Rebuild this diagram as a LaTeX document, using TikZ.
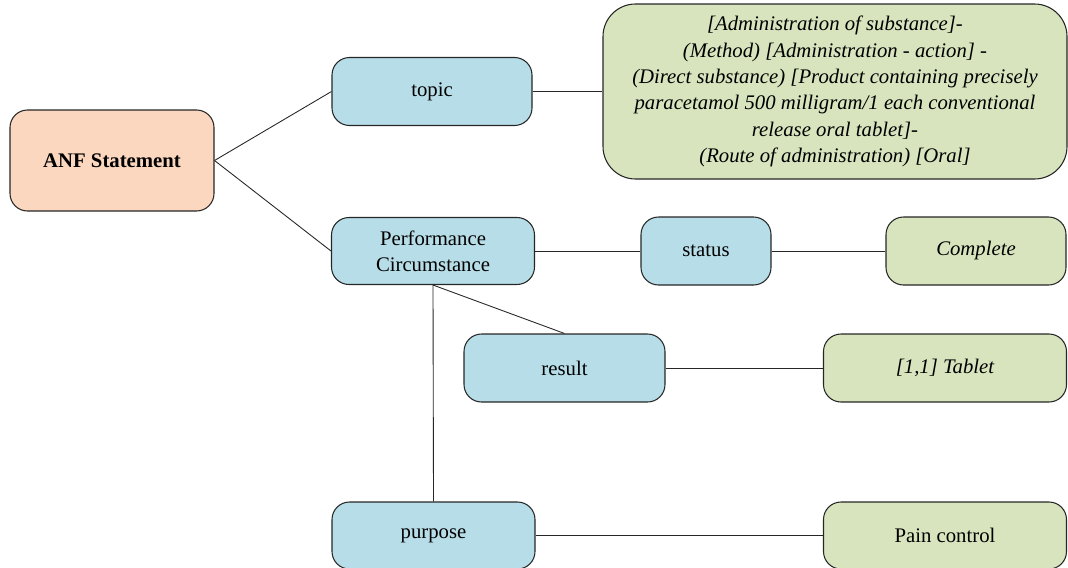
\documentclass[tikz,border=0pt]{standalone}
\usepackage{fontspec}
\setmainfont{Liberation Serif}
\usepackage{tikz}
\definecolor{anfpeach}{HTML}{FAD7BE}
\definecolor{attrblue}{HTML}{B7DEE8}
\definecolor{valgreen}{HTML}{D7E4BD}
\tikzset{box/.style = {draw=black!85, line width=0.6pt, rounded corners=0.35cm,
                       align=center, inner sep=2pt,
                       font=\fontsize{11.8}{15}\selectfont}}
\tikzset{attr/.style = {box, fill=attrblue}}
\tikzset{val/.style = {box, fill=valgreen, font=\fontsize{11.8}{15}\selectfont\itshape}}
\tikzset{link/.style = {draw=black!85, line width=0.5pt}}

\begin{document}
\begin{tikzpicture}
    \useasboundingbox (0, 0) rectangle (21.36, -11.34);
    \node [box, fill=anfpeach, minimum width=4.08cm, minimum height=2.02cm, font=\fontsize{11.8}{15}\selectfont\bfseries] (anf) at (2.24, -3.21) {ANF Statement};
    \node [attr, minimum width=4.0cm, minimum height=1.36cm] (topic) at (8.64, -1.83) {topic};
    \node [val, rounded corners=0.65cm, minimum width=9.28cm, minimum height=3.5cm] (focus) at (16.7, -1.83)
      {[Administration of substance]-\\
       (Method) [Administration - action] -\\
       (Direct substance) [Product containing precisely\\
       paracetamol 500 milligram/1 each conventional\\
       release oral tablet]-\\
       (Route of administration) [Oral]};
    \node [attr, minimum width=4.06cm, minimum height=1.34cm] (circ) at (8.66, -5.02) {Performance\\Circumstance};
    \node [attr, minimum width=2.6cm, minimum height=1.36cm] (status) at (14.12, -5.02) {status};
    \node [val, minimum width=3.6cm, minimum height=1.36cm] (complete) at (19.52, -5.02) {Complete};
    \node [attr, minimum width=4.02cm, minimum height=1.36cm] (result) at (11.29, -7.36) {result};
    \node [val, minimum width=4.86cm, minimum height=1.36cm] (tablet) at (18.9, -7.36) {[1,1] Tablet};
    \node [attr, minimum width=4.06cm, minimum height=1.34cm] (purpose) at (8.67, -10.71) {purpose};
    \node [box, fill=valgreen, minimum width=4.86cm, minimum height=1.34cm] (pain) at (18.9, -10.71) {Pain control};

    \draw [link] (anf.east) -- (topic.west);
    \draw [link] (anf.east) -- (circ.west);
    \draw [link] (topic.east) -- (focus.west);
    \draw [link] (circ.east) -- (status.west);
    \draw [link] (status.east) -- (complete.west);
    \draw [link] (circ.south) -- (result.north);
    \draw [link] (circ.south) -- (purpose.north);
    \draw [link] (result.east) -- (tablet.west);
    \draw [link] (purpose.east) -- (pain.west);
  \end{tikzpicture}
\end{document}
